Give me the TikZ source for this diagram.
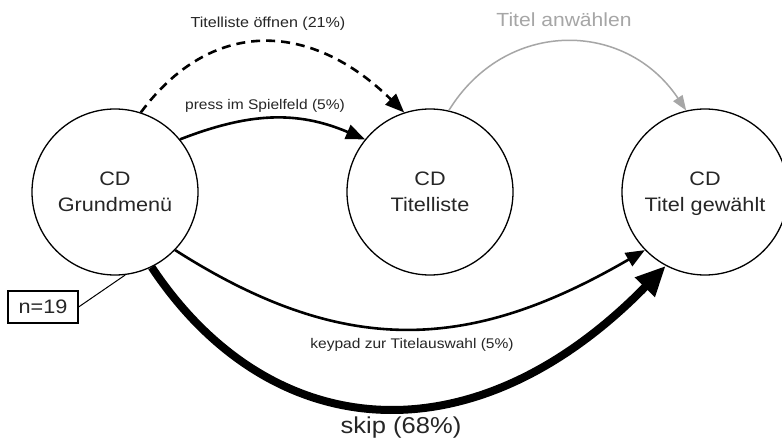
\documentclass[tikz,border=0pt]{standalone}
\usepackage{fontspec}
\setmainfont{Liberation Sans}[FakeStretch=1.11]
\usetikzlibrary{arrows.meta}

\definecolor{inkgray}{HTML}{262626}
\definecolor{softgray}{HTML}{A6A6A6}

\tikzset{
  statebox/.style={circle, draw=black, line width=1.3pt, minimum size=166pt,
    inner sep=0pt, align=center, text=inkgray, text depth=0pt,
    font=\fontsize{19.5}{26}\selectfont},
  smalllabel/.style={anchor=base, inner sep=0pt, text=inkgray,
    font=\fontsize{14}{16}\selectfont},
  flow/.style={line width=2.6pt, -{Triangle[length=19pt, width=15pt]}},
  dashflow/.style={flow, dash pattern=on 9pt off 6pt},
  softflow/.style={draw=softgray, line width=1.5pt,
    -{Triangle[length=15pt, width=11pt]}},
  heavyflow/.style={line width=8pt, -{Triangle[length=30pt, width=26pt]}},
  notebox/.style={draw=black, line width=1.2pt, minimum width=70pt,
    minimum height=32pt, inner sep=0pt, text=inkgray,
    font=\fontsize{19.5}{22}\selectfont}
}

\begin{document}
\begin{tikzpicture}[x=1pt, y=-1pt]
  \useasboundingbox (0,0) rectangle (782,441);
  \clip (0,0) rectangle (782,441);
  \fill[white] (0,0) rectangle (782,441);

  % states
  \node[statebox] (grund) at (115,192) {CD\\Grundmenü};
  \node[statebox] (liste) at (430,192) {CD\\Titelliste};
  \node[statebox] (gewaehlt) at (705,192) {CD\\Titel gewählt};

  % sample size note
  \node[notebox] (nnote) at (43,307) {n=19};
  \draw[line width=1pt] (nnote.east) -- (grund.-83);

  % transitions
  \draw[dashflow] (grund.72) .. controls (210,19) and (309,19) .. (liste.108);
  \draw[flow] (grund.39) .. controls (248,113) and (296,110) .. (liste.141);
  \draw[softflow] (liste.77) .. controls (505,19) and (625,19) .. (gewaehlt.103);
  \draw[flow] (grund.-44) .. controls (347,360) and (473,350) .. (gewaehlt.224);
  \draw[heavyflow] (grund.-64) .. controls (270,445) and (473,463) .. (gewaehlt.242);

  % transition labels
  \node[smalllabel, font=\fontsize{14.5}{16}\selectfont] (lblopen) at (268,28) {Titelliste öffnen (21\%)};
  \node[smalllabel] (lblpress) at (265,110) {press im Spielfeld (5\%)};
  \node[smalllabel, text=softgray, font=\fontsize{19}{22}\selectfont] (lblpick) at (564,27) {Titel anwählen};
  \node[smalllabel] (lblkeypad) at (412,348) {keypad zur Titelauswahl (5\%)};
  \node[smalllabel, font=\fontsize{23}{26}\selectfont] (lblskip) at (401,433) {skip (68\%)};
\end{tikzpicture}
\end{document}
